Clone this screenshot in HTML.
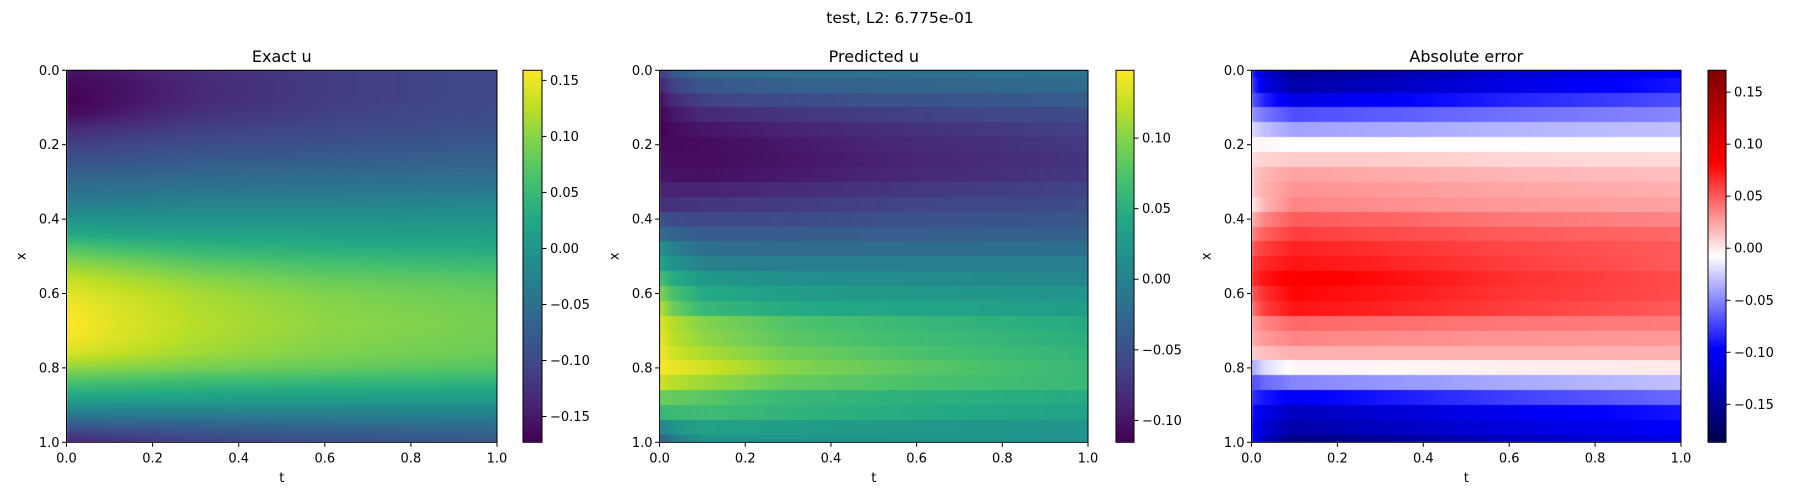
<!DOCTYPE html>
<html><head><meta charset="utf-8">
<style>
html,body{margin:0;padding:0;background:#fff;}
#wrap{position:relative;width:1800px;height:500px;overflow:hidden;}
canvas,svg{position:absolute;left:0;top:0;}
text{font-family:"DejaVu Sans","Liberation Sans",sans-serif;fill:#000;}
</style></head>
<body>
<div id="wrap">
<canvas id="cv" width="1800" height="500"></canvas>
<svg id="sv" width="1800" height="500"></svg>
</div>
<script>
// ---- data ----
const tCoords = [0, 0.03, 0.1, 0.3, 0.6, 1.0];
const xCoords = [0,0.04,0.08,0.12,0.16,0.2,0.24,0.28,0.32,0.36,0.4,0.44,0.48,0.52,0.56,0.6,0.64,0.68,0.72,0.76,0.8,0.84,0.88,0.92,0.96,1.0];
const exactU = [
[-0.15,-0.155,-0.15,-0.13,-0.115,-0.10],
[-0.165,-0.165,-0.16,-0.135,-0.115,-0.10],
[-0.173,-0.17,-0.16,-0.135,-0.115,-0.10],
[-0.16,-0.16,-0.15,-0.125,-0.11,-0.095],
[-0.13,-0.13,-0.125,-0.11,-0.10,-0.09],
[-0.11,-0.11,-0.105,-0.095,-0.09,-0.08],
[-0.09,-0.09,-0.088,-0.08,-0.075,-0.07],
[-0.07,-0.07,-0.068,-0.062,-0.058,-0.055],
[-0.05,-0.05,-0.048,-0.045,-0.042,-0.04],
[-0.03,-0.03,-0.028,-0.025,-0.024,-0.02],
[-0.005,-0.005,-0.005,-0.005,-0.005,-0.005],
[0.025,0.025,0.022,0.02,0.015,0.012],
[0.07,0.068,0.06,0.045,0.035,0.03],
[0.105,0.10,0.095,0.075,0.06,0.05],
[0.13,0.128,0.12,0.10,0.08,0.07],
[0.145,0.143,0.135,0.115,0.095,0.08],
[0.155,0.152,0.143,0.12,0.10,0.087],
[0.159,0.156,0.146,0.123,0.103,0.09],
[0.155,0.152,0.143,0.12,0.10,0.088],
[0.14,0.138,0.13,0.112,0.095,0.083],
[0.105,0.103,0.10,0.09,0.08,0.07],
[0.06,0.06,0.058,0.05,0.045,0.04],
[0.02,0.02,0.018,0.015,0.012,0.01],
[-0.03,-0.03,-0.03,-0.028,-0.025,-0.022],
[-0.09,-0.088,-0.085,-0.075,-0.065,-0.058],
[-0.14,-0.135,-0.13,-0.11,-0.095,-0.085]];
const predU = [
[-0.07,-0.045,-0.025,-0.02,-0.018,-0.015],
[-0.09,-0.065,-0.045,-0.035,-0.03,-0.025],
[-0.105,-0.085,-0.065,-0.055,-0.048,-0.04],
[-0.112,-0.10,-0.085,-0.075,-0.065,-0.055],
[-0.115,-0.108,-0.10,-0.09,-0.078,-0.065],
[-0.11,-0.11,-0.108,-0.098,-0.085,-0.072],
[-0.105,-0.108,-0.108,-0.10,-0.088,-0.075],
[-0.10,-0.103,-0.104,-0.097,-0.085,-0.073],
[-0.09,-0.09,-0.09,-0.083,-0.073,-0.063],
[-0.08,-0.078,-0.075,-0.07,-0.062,-0.055],
[-0.05,-0.055,-0.058,-0.055,-0.05,-0.045],
[-0.02,-0.03,-0.04,-0.04,-0.038,-0.035],
[0.02,0.0,-0.02,-0.025,-0.022,-0.02],
[0.04,0.02,0.0,-0.005,-0.005,-0.005],
[0.07,0.048,0.025,0.015,0.01,0.005],
[0.10,0.072,0.045,0.03,0.025,0.02],
[0.12,0.09,0.06,0.045,0.038,0.03],
[0.135,0.118,0.10,0.075,0.06,0.045],
[0.14,0.122,0.105,0.08,0.065,0.05],
[0.145,0.13,0.115,0.09,0.072,0.055],
[0.148,0.14,0.13,0.10,0.08,0.06],
[0.13,0.12,0.11,0.085,0.072,0.06],
[0.09,0.085,0.08,0.06,0.052,0.045],
[0.06,0.062,0.065,0.055,0.045,0.035],
[0.0,0.018,0.035,0.03,0.025,0.02],
[-0.04,-0.01,0.02,0.02,0.02,0.02]];
const errU = [
[-0.08,-0.12,-0.15,-0.14,-0.12,-0.10],
[-0.075,-0.11,-0.14,-0.13,-0.11,-0.09],
[-0.065,-0.085,-0.11,-0.10,-0.085,-0.07],
[-0.045,-0.055,-0.07,-0.065,-0.058,-0.05],
[-0.02,-0.03,-0.04,-0.038,-0.034,-0.03],
[-0.005,-0.005,-0.008,-0.008,-0.008,-0.008],
[0.005,0.008,0.01,0.01,0.007,0.005],
[0.01,0.018,0.025,0.022,0.018,0.015],
[0.01,0.02,0.03,0.028,0.024,0.02],
[0.0,0.018,0.035,0.032,0.028,0.025],
[0.02,0.035,0.05,0.047,0.04,0.035],
[0.035,0.048,0.06,0.056,0.05,0.045],
[0.05,0.06,0.07,0.065,0.057,0.05],
[0.06,0.068,0.075,0.07,0.06,0.05],
[0.065,0.075,0.085,0.078,0.065,0.055],
[0.05,0.065,0.08,0.074,0.063,0.055],
[0.04,0.06,0.075,0.07,0.06,0.05],
[0.025,0.035,0.045,0.043,0.04,0.038],
[0.02,0.028,0.035,0.033,0.03,0.028],
[0.01,0.015,0.02,0.02,0.02,0.02],
[-0.04,-0.02,-0.005,-0.005,-0.002,0.0],
[-0.07,-0.06,-0.05,-0.045,-0.038,-0.03],
[-0.08,-0.09,-0.10,-0.09,-0.075,-0.06],
[-0.09,-0.11,-0.13,-0.12,-0.105,-0.09],
[-0.10,-0.12,-0.14,-0.13,-0.115,-0.10],
[-0.10,-0.13,-0.16,-0.15,-0.13,-0.11]];
const axisTicks = [0, 0.2, 0.4, 0.6, 0.8, 1.0];
const axisTickLabels = ["0.0","0.2","0.4","0.6","0.8","1.0"];
const cbTicks1 = [-0.15,-0.10,-0.05,0.00,0.05,0.10,0.15];
const cbTicks2 = [-0.10,-0.05,0.00,0.05,0.10];
const cbTicks3 = [-0.15,-0.10,-0.05,0.00,0.05,0.10,0.15];
const cbRange1 = [-0.173, 0.159];
const cbRange2 = [-0.1155, 0.148];
const cbRange3 = [-0.1865, 0.171];
const titles = ["Exact u","Predicted u","Absolute error"];
const suptitle = "test, L2: 6.775e-01";

// ---- colormaps ----
const viridisStops = ["#440154","#482475","#414487","#355f8d","#2a788e","#21918c","#22a884","#44bf70","#7ad151","#bddf26","#fde725"];
const vir = viridisStops.map(h=>[parseInt(h.slice(1,3),16),parseInt(h.slice(3,5),16),parseInt(h.slice(5,7),16)]);
function viridis(f){f=Math.max(0,Math.min(1,f));const p=f*10,i=Math.min(9,Math.floor(p)),r=p-i;
 return vir[i].map((c,k)=>c+(vir[i+1][k]-c)*r);}
function seismic(f){f=Math.max(0,Math.min(1,f));
 const st=[[0,[0,0,76.5]],[0.25,[0,0,255]],[0.5,[255,255,255]],[0.75,[255,0,0]],[1,[127.5,0,0]]];
 for(let i=0;i<4;i++){if(f<=st[i+1][0]){const r=(f-st[i][0])/(st[i+1][0]-st[i][0]);return st[i][1].map((c,k)=>c+(st[i+1][1][k]-c)*r);}}
 return st[4][1];}

const panels = [
 {x0:66.5,x1:497,cb0:523,cb1:542,data:exactU,cmap:viridis,range:cbRange1,ticks:cbTicks1,smoothX:true},
 {x0:659.6,x1:1088,cb0:1116,cb1:1134,data:predU,cmap:viridis,range:cbRange2,ticks:cbTicks2,smoothX:false},
 {x0:1251.5,x1:1681,cb0:1708,cb1:1726,data:errU,cmap:seismic,range:cbRange3,ticks:cbTicks3,smoothX:false}
];
const Y0=70.3, Y1=442.3;

const cv=document.getElementById('cv'), ctx=cv.getContext('2d');
const img=ctx.createImageData(1800,500);
function sampleT(row,t){
 for(let j=0;j<tCoords.length-1;j++){ if(t<=tCoords[j+1]){const r=(t-tCoords[j])/(tCoords[j+1]-tCoords[j]);return row[j]+(row[j+1]-row[j])*r;} }
 return row[row.length-1];}
function sample(p,t,x){
 const n=xCoords.length-1, pos=x*n;
 if(!p.smoothX){const i=Math.min(n,Math.max(0,Math.round(pos)));return sampleT(p.data[i],t);}
 const i=Math.min(n-1,Math.floor(pos)), r=pos-i;
 return sampleT(p.data[i],t)*(1-r)+sampleT(p.data[i+1],t)*r;}
panels.forEach(p=>{
 const px0=Math.round(p.x0),px1=Math.round(p.x1),py0=Math.round(Y0),py1=Math.round(Y1);
 for(let py=py0;py<py1;py++){const x=(py+0.5-Y0)/(Y1-Y0);
  for(let px=px0;px<px1;px++){const t=(px+0.5-p.x0)/(p.x1-p.x0);
   const v=sample(p,Math.max(0,Math.min(1,t)),Math.max(0,Math.min(1,x)));
   const c=p.cmap((v-p.range[0])/(p.range[1]-p.range[0]));
   const k=(py*1800+px)*4;img.data[k]=c[0];img.data[k+1]=c[1];img.data[k+2]=c[2];img.data[k+3]=255;}}
 const c0=Math.round(p.cb0),c1=Math.round(p.cb1);
 for(let py=py0;py<py1;py++){const f=1-(py+0.5-Y0)/(Y1-Y0);const c=p.cmap(f);
  for(let px=c0;px<c1;px++){const k=(py*1800+px)*4;img.data[k]=c[0];img.data[k+1]=c[1];img.data[k+2]=c[2];img.data[k+3]=255;}}
});
ctx.putImageData(img,0,0);

// ---- svg overlay ----
const sv=document.getElementById('sv'), NS="http://www.w3.org/2000/svg";
function mk(tag,attrs,parent){const e=document.createElementNS(NS,tag);for(const k in attrs)e.setAttribute(k,attrs[k]);(parent||sv).appendChild(e);return e;}
const st=mk('text',{x:900,y:23,'text-anchor':'middle','font-size':15.5});
st.textContent=suptitle;


panels.forEach((p,pi)=>{
 const g=mk('g',{});
 
 
 const sx=t=>p.x0+t*(p.x1-p.x0), sy=x=>Y0+x*(Y1-Y0);
 const fr=mk('rect',{x:p.x0,y:Y0,width:p.x1-p.x0,height:Y1-Y0,fill:'none',stroke:'#000','stroke-width':1},g);
 
 
 const tt=mk('text',{x:(p.x0+p.x1)/2,y:62,'text-anchor':'middle','font-size':16},g);
 tt.textContent=titles[pi];
 
 
 axisTicks.forEach((v,i)=>{
  mk('line',{x1:sx(v),x2:sx(v),y1:Y1,y2:Y1+4.5,stroke:'#000','stroke-width':1},g);
  const xl=mk('text',{x:sx(v),y:Y1+20,'text-anchor':'middle','font-size':13},g);
  xl.textContent=axisTickLabels[i];
  
  
  mk('line',{x1:p.x0-4.5,x2:p.x0,y1:sy(v),y2:sy(v),stroke:'#000','stroke-width':1},g);
  const yl=mk('text',{x:p.x0-7,y:sy(v)+4.5,'text-anchor':'end','font-size':13},g);
  yl.textContent=axisTickLabels[i];
  
  
 });
 const xt=mk('text',{x:(p.x0+p.x1)/2,y:482,'text-anchor':'middle','font-size':13},g);
 xt.textContent='t';
 
 
 const yx=p.x0-41, yc=(Y0+Y1)/2;
 const yt=mk('text',{x:yx,y:yc,'text-anchor':'middle','font-size':13,transform:`rotate(-90 ${yx} ${yc})`},g);
 yt.textContent='x';
 
 
 const cbf=mk('rect',{x:p.cb0,y:Y0,width:p.cb1-p.cb0,height:Y1-Y0,fill:'none',stroke:'#000','stroke-width':1},g);
 
 
 const cy=v=>Y1-(v-p.range[0])/(p.range[1]-p.range[0])*(Y1-Y0);
 p.ticks.forEach(v=>{
  mk('line',{x1:p.cb1,x2:p.cb1+4.5,y1:cy(v),y2:cy(v),stroke:'#000','stroke-width':1},g);
  const cl=mk('text',{x:p.cb1+8,y:cy(v)+4.5,'font-size':13},g);
  cl.textContent=(v<0?'\u2212':'')+Math.abs(v).toFixed(2);
  
  
 });
});
</script>
</body></html>
